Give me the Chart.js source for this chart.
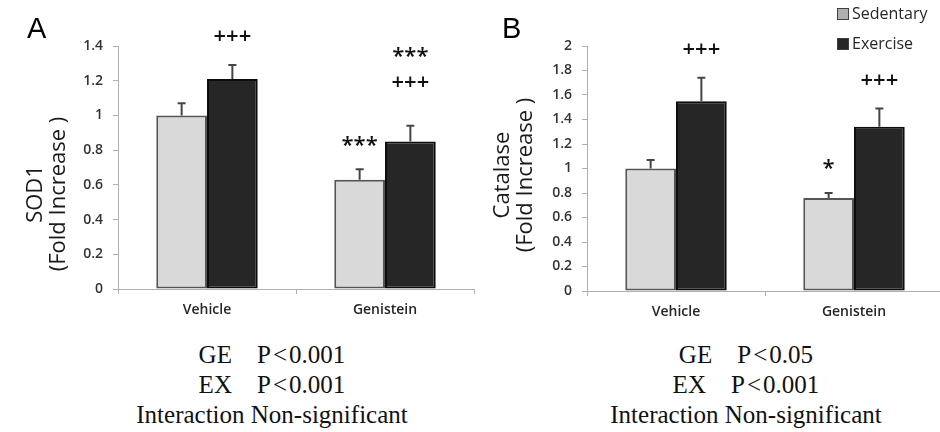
<!DOCTYPE html>
<html>
<head>
<meta charset="utf-8">
<script src="https://cdn.jsdelivr.net/npm/chart.js@4.4.1/dist/chart.umd.min.js"></script>
<style>
    body { margin: 0; width: 940px; height: 432px; overflow: hidden; background: #fff; position: relative; }
    canvas { position: absolute; top: 0; }
    #chartA { left: 0; }
    #chartB { left: 470px; }
    .panel { position: absolute; top: 14px; font-family: "Liberation Sans", Arial, sans-serif; font-size: 29px; line-height: 29px; color: #000; }
    .stats { position: absolute; top: 340px; width: 340px; text-align: center; white-space: pre;
             font-family: "Liberation Serif", "Times New Roman", serif; font-size: 25px; line-height: 30px; color: #111; }
</style>
</head>
<body>
<canvas id="chartA" width="480" height="330"></canvas>
<canvas id="chartB" width="473" height="330"></canvas>
<div class="panel" style="left:27px">A</div>
<div class="panel" style="left:502px">B</div>
<div class="stats" style="left:102px">GE    P&#8202;&lt;&#8202;0.001
EX    P&#8202;&lt;&#8202;0.001
Interaction Non-significant</div>
<div class="stats" style="left:576px">GE    P&#8202;&lt;&#8202;0.05
EX    P&#8202;&lt;&#8202;0.001
Interaction Non-significant</div>
<script>
const groups = ['Vehicle', 'Genistein'];
const seriesNames = ['Sedentary', 'Exercise'];

// panel A - SOD1
const sodSed = [1.00, 0.63];
const sodSedErr = [0.07, 0.06];
const sodEx = [1.21, 0.85];
const sodExErr = [0.08, 0.09];
const sodSedMarks = [[], ['***']];
const sodExMarks = [['+++'], ['***', '+++']];
const sodTicks = [0, 0.2, 0.4, 0.6, 0.8, 1, 1.2, 1.4];
const sodTitle = ['SOD1', '(Fold Increase )'];

// panel B - Catalase
const catSed = [1.00, 0.76];
const catSedErr = [0.07, 0.04];
const catEx = [1.55, 1.34];
const catExErr = [0.19, 0.15];
const catSedMarks = [[], ['*']];
const catExMarks = [['+++'], ['+++']];
const catTicks = [0, 0.2, 0.4, 0.6, 0.8, 1, 1.2, 1.4, 1.6, 1.8, 2];
const catTitle = ['Catalase', '(Fold Increase )'];

Chart.defaults.font.family = '"Open Sans", sans-serif';

// upward error bars + significance marks above them
const errorBars = {
    id: 'errorBars',
    afterDatasetsDraw(chart) {
        const ctx = chart.ctx;
        const yScale = chart.scales.y;
        chart.data.datasets.forEach((ds, i) => {
            chart.getDatasetMeta(i).data.forEach((bar, j) => {
                const top = yScale.getPixelForValue(ds.data[j] + ds.errors[j]);
                ctx.save();
                ctx.strokeStyle = '#454545';
                ctx.lineWidth = 2;
                ctx.beginPath();
                ctx.moveTo(bar.x, bar.y);
                ctx.lineTo(bar.x, top);
                ctx.moveTo(bar.x - 4, top);
                ctx.lineTo(bar.x + 4, top);
                ctx.stroke();

                const marks = ds.marks[j];
                ctx.fillStyle = '#111';
                ctx.font = '600 22px "Open Sans"';
                ctx.textAlign = 'center';
                ctx.textBaseline = 'middle';
                let yy = top - 28 - (marks.length - 1) * 15;
                for (let k = marks.length - 1; k >= 0; k--) {
                    // asterisks sit high in the font, push them down a bit
                    ctx.fillText(marks[k], bar.x, marks[k][0] == '*' ? yy + 4 : yy);
                    yy -= 30;
                }
                ctx.restore();
            });
        });
    }
};

// two-line rotated y title
const yTitle = {
    id: 'yTitle',
    afterDraw(chart, args, opts) {
        if (!opts.lines) return;
        const ctx = chart.ctx;
        ctx.save();
        ctx.fillStyle = '#1a1a1a';
        ctx.font = '22px "Open Sans"';
        ctx.textAlign = 'center';
        ctx.textBaseline = 'alphabetic';
        opts.lines.forEach((t, i) => {
            ctx.save();
            ctx.translate(opts.x + i * 23, opts.y);
            ctx.rotate(-Math.PI / 2);
            ctx.fillText(t, 0, 0);
            ctx.restore();
        });
        ctx.restore();
    }
};

// small legend in the top right corner
const sideLegend = {
    id: 'sideLegend',
    afterDraw(chart, args, opts) {
        if (!opts.display) return;
        const ctx = chart.ctx;
        ctx.save();
        chart.data.datasets.forEach((ds, i) => {
            const y = opts.y + i * 30;
            ctx.fillStyle = i == 0 ? '#b0b0b0' : ds.backgroundColor;
            ctx.fillRect(opts.x, y - 6, 12, 12);
            ctx.strokeStyle = '#404040';
            ctx.lineWidth = 1;
            ctx.strokeRect(opts.x + 0.5, y - 5.5, 11, 11);
            ctx.fillStyle = '#262626';
            ctx.font = '16px "Open Sans"';
            ctx.textAlign = 'left';
            ctx.textBaseline = 'middle';
            ctx.fillText(ds.label, opts.x + 15, y);
        });
        ctx.restore();
    }
};

function barPanel(canvasId, sed, sedErr, sedMarks, ex, exErr, exMarks, ticks, title, lay) {
    const config = {
        type: 'bar',
        data: {
            labels: groups,
            datasets: [
                {
                    label: seriesNames[0],
                    data: sed, errors: sedErr, marks: sedMarks,
                    backgroundColor: '#d9d9d9',
                    borderColor: '#555555',
                    borderWidth: 2,
                    borderSkipped: false,
                    categoryPercentage: 0.57,
                    barPercentage: 1.0
                },
                {
                    label: seriesNames[1],
                    data: ex, errors: exErr, marks: exMarks,
                    backgroundColor: '#262626',
                    borderColor: '#0d0d0d',
                    borderWidth: 2,
                    borderSkipped: false,
                    categoryPercentage: 0.57,
                    barPercentage: 1.0
                }
            ]
        },
        options: {
            responsive: false,
            animation: false,
            layout: { padding: { top: 46, right: lay.right, left: 0, bottom: 0 } },
            scales: {
                x: {
                    grid: { display: true, drawOnChartArea: false, drawTicks: true, tickLength: 5, color: '#b0b0b0', offset: true },
                    border: { color: '#b0b0b0', width: 1 },
                    ticks: { color: '#262626', font: { size: 14, weight: '600' }, padding: 8 },
                    afterFit: (s) => { s.height = lay.xh; }
                },
                y: {
                    min: ticks[0],
                    max: ticks[ticks.length - 1],
                    grid: { display: true, drawOnChartArea: false, drawTicks: true, tickLength: 5, color: '#b0b0b0' },
                    border: { color: '#b0b0b0', width: 1 },
                    ticks: {
                        color: '#333333', font: { size: 14, weight: '600' }, padding: 10,
                        callback: (v) => String(Math.round(v * 10) / 10)
                    },
                    afterBuildTicks: (s) => { s.ticks = ticks.map(v => ({ value: v })); },
                    afterFit: (s) => { s.width = lay.yw; }
                }
            },
            plugins: {
                legend: { display: false },
                tooltip: { enabled: false },
                yTitle: { lines: title, x: lay.tx, y: lay.ty },
                sideLegend: { display: lay.legend, x: 367, y: 14 }
            }
        },
        plugins: [errorBars, yTitle, sideLegend]
    };

    var myChart = new Chart(document.getElementById(canvasId), config);
    return myChart;
}

barPanel('chartA', sodSed, sodSedErr, sodSedMarks, sodEx, sodExErr, sodExMarks, sodTicks, sodTitle,
    { right: 6, xh: 41, yw: 118, tx: 42, ty: 194, legend: false });
barPanel('chartB', catSed, catSedErr, catSedMarks, catEx, catExErr, catExMarks, catTicks, catTitle,
    { right: 0, xh: 39, yw: 117, tx: 39, ty: 175, legend: true });
</script>
</body>
</html>
